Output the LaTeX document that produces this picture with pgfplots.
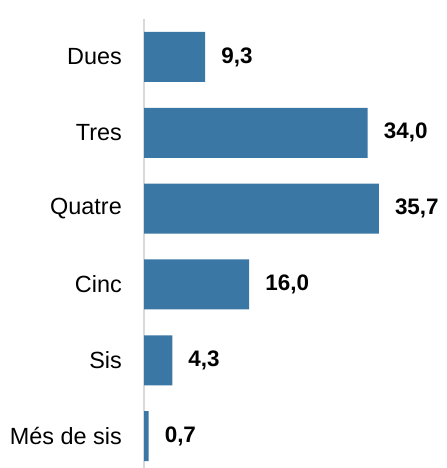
\documentclass[border=0pt]{standalone}
\usepackage{pgfplots}
\pgfplotsset{compat=1.18}
\usepackage{fontspec}
\setmainfont{Liberation Sans}
\definecolor{barblue}{HTML}{3B77A4}
\definecolor{axisgray}{HTML}{D9D9D9}
\begin{document}
\begin{tikzpicture}
\path[use as bounding box] (0,0) rectangle (447bp,468bp);
\begin{axis}[
  at={(144bp,0)}, anchor=south west,
  scale only axis, width=296bp, height=449bp,
  xbar, bar width=50bp,
  xmin=0, xmax=45,
  ymin=-0.5, ymax=5.42, y dir=reverse,
  axis x line=none,
  axis y line=left,
  y axis line style={-, draw=axisgray, line width=1.6bp},
  ytick={0,1,2,3,4,5},
  yticklabels={Dues,Tres,Quatre,Cinc,Sis,Més de sis},
  major tick length=0pt,
  yticklabel style={font=\fontsize{23.5}{28}\selectfont, inner sep=0pt, xshift=-22bp},
  /pgf/number format/assume math mode=true,
  /pgf/number format/.cd, fixed, fixed zerofill, precision=1, use comma,
  /pgfplots/.cd,
  nodes near coords,
  nodes near coords style={anchor=west, inner sep=0pt, xshift=16bp, font=\fontsize{22.5}{27}\selectfont\bfseries, text=black},
  clip=false,
]
\addplot[fill=barblue, draw=none] coordinates {
  (9.3,0) (34.0,1) (35.7,2) (16.0,3) (4.3,4) (0.7,5)
};
\end{axis}
\end{tikzpicture}
\end{document}
